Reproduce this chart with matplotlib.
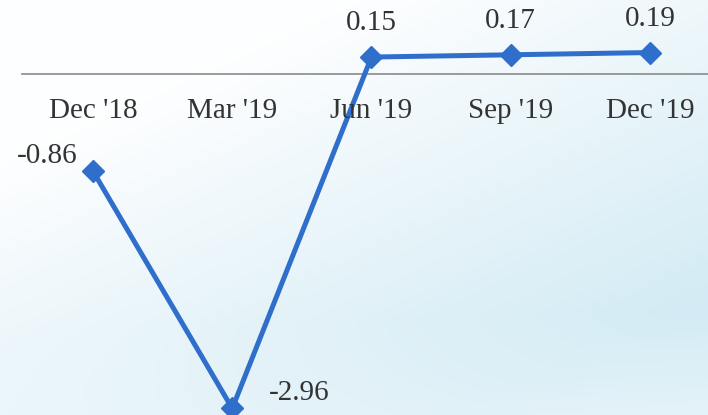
import numpy as np
import matplotlib.pyplot as plt

quarters = ["Dec '18", "Mar '19", "Jun '19", "Sep '19", "Dec '19"]
values = [-0.86, -2.96, 0.15, 0.17, 0.19]
labels = ["-0.86", "-2.96", "0.15", "0.17", "0.19"]

plt.rcParams['font.family'] = ['Liberation Serif', 'DejaVu Serif']

fig = plt.figure(figsize=(7.08, 4.15), dpi=100)

# scanned-paper background: white top, pale blue band lower down
bg = fig.add_axes([0, 0, 1, 1])
yy, xx = np.mgrid[0:1:200j, 0:1:300j]
t = np.clip(0.9 * yy + 0.7 * xx - 0.35, 0, 1) * np.clip(1.9 - 1.1 * yy + 0.3 * xx - 0.5 * xx * yy, 0, 1)
t = np.clip(t, 0, 1) * 0.85
c0 = np.array([0.995, 0.997, 1.0])
c1 = np.array([0.80, 0.91, 0.95])
img = c0[None, None, :] * (1 - t[..., None]) + c1[None, None, :] * t[..., None]
bg.imshow(img, extent=[0, 1, 0, 1], aspect='auto', origin='upper')
bg.axis('off')

ax = fig.add_axes([0, 0, 1, 1])
ax.patch.set_alpha(0)
x = np.arange(len(quarters))
ax.set_xlim(-0.668, 4.417)
ax.set_ylim(-3.018, 0.655)

ax.plot([-0.51, 4.417], [0, 0], color='#8a8a8a', lw=1.2)
ax.plot(x, values, color='#2f6fcb', lw=3.6, marker='D', markersize=11, zorder=3)

for i, q in enumerate(quarters):
    ax.text(x[i], -0.33, q, ha='center', va='center', fontsize=21, color='#333333')

offsets = [(-0.33, 0.13, 'center'), (0.48, 0.14, 'center'),
           (0, 0.30, 'center'), (0, 0.30, 'center'), (0, 0.30, 'center')]
for i, (dx, dy, ha) in enumerate(offsets):
    ax.text(x[i] + dx, values[i] + dy, labels[i], ha=ha, va='center',
            fontsize=21, color='#333333')

ax.axis('off')
fig.savefig('out.png', dpi=100)
